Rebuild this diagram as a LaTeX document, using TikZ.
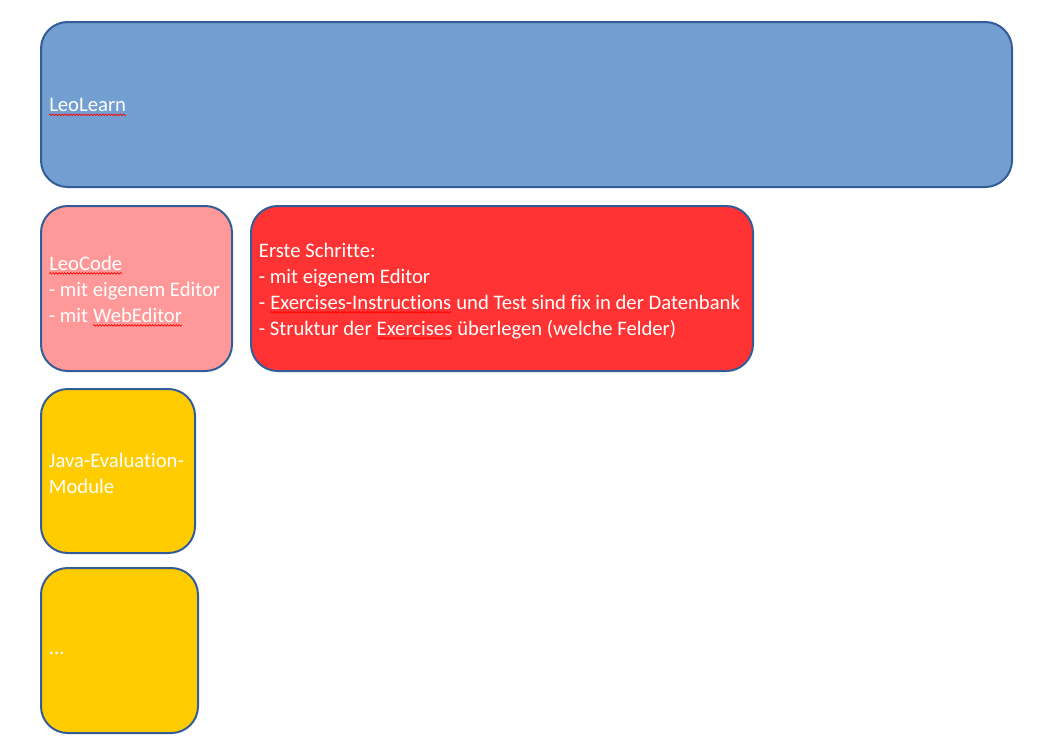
\documentclass[tikz,border=0pt]{standalone}
\usepackage{fontspec}
\setmainfont{Carlito}[Ligatures=NoCommon]
\usepackage{tikz}
\usetikzlibrary{positioning,decorations.pathmorphing}
\definecolor{learnblue}{RGB}{114,159,207}
\definecolor{codepink}{RGB}{255,153,153}
\definecolor{stepred}{RGB}{255,51,51}
\definecolor{modgold}{RGB}{255,204,0}
\definecolor{edgeblue}{RGB}{52,92,150}
\tikzset{
  box/.style={draw=edgeblue, line width=1.5pt, rounded corners=20pt, anchor=north west},
  boxtext/.style={text=white, align=left, inner sep=0pt, yshift=-2pt,
    font=\fontsize{15.5}{19.5}\selectfont},
  squiggle/.style={draw=red, line width=0.5pt, sharp corners, decorate,
    decoration={snake, amplitude=0.6pt, segment length=2.2pt}},
}
% spell checker underline
\newcommand{\spell}[1]{\tikz[baseline=(w.base), x=1cm, y=1cm, sharp corners, line width=0.4pt]{%
  \node[inner sep=0pt, outer sep=0pt, draw=none, minimum width=0pt, minimum height=0pt] (w) {#1};%
  \path[squiggle] ([yshift=-2.4pt]w.base west) -- ([yshift=-2.4pt]w.base east);}}

\begin{document}
\begin{tikzpicture}[x=0.75pt, y=-0.75pt, node distance=12.75pt]
    \useasboundingbox (0,0) rectangle (1042,751);
    % boxes
    \node[box, fill=learnblue, minimum width=728.25pt, minimum height=123.75pt] (leolearn) at (40,21) {};
    \node[box, fill=codepink, below=of leolearn.south west, anchor=north west,
      minimum width=143.25pt, minimum height=123.75pt] (leocode) {};
    \node[box, fill=stepred, right=of leocode.north east, anchor=north west,
      minimum width=376.5pt, minimum height=123.75pt] (schritte) {};
    \node[box, fill=modgold, below=12pt of leocode.south west, anchor=north west,
      minimum width=115.5pt, minimum height=123pt] (java) {};
    \node[box, fill=modgold, below=9.75pt of java.south west, anchor=north west,
      minimum width=117.75pt, minimum height=123.75pt] (more) {};
    % texts
    \node[boxtext, right=6.5pt of leolearn.west] (leolearn-t) {\spell{LeoLearn}};
    \node[boxtext, right=6.5pt of leocode.west] (leocode-t)
      {\spell{LeoCode}\\- mit eigenem Editor\\- mit \spell{WebEditor}};
    \node[boxtext, right=6.5pt of schritte.west] (schritte-t)
      {Erste Schritte:\\- mit eigenem Editor\\- \spell{Exercises-Instructions} und Test sind fix in der Datenbank\\- Struktur der \spell{Exercises} überlegen (welche Felder)};
    \node[boxtext, right=6.5pt of java.west] (java-t) {Java-Evaluation-\\Module};
    \node[boxtext, right=6.5pt of more.west] (more-t) {...};
\end{tikzpicture}
\end{document}
